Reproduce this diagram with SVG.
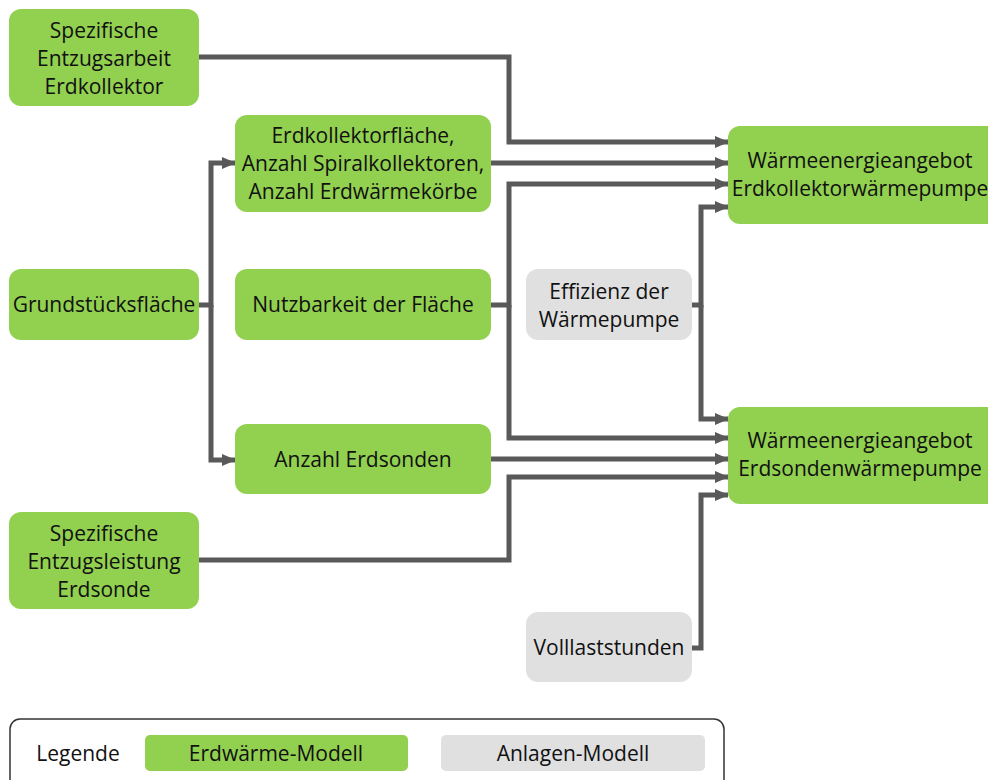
<svg xmlns="http://www.w3.org/2000/svg" width="988" height="780" viewBox="0 0 988 780">
<defs>
<marker id="ah" markerWidth="14" markerHeight="12" refX="13" refY="6" orient="auto" markerUnits="userSpaceOnUse">
<path d="M0,0 L14,6 L0,12 Z" fill="#595959"/>
</marker>
<style>
.g{fill:#92D050}
.y{fill:#E0E0E0}
text{font-family:"Open Sans","Noto Sans",sans-serif;font-size:21px;fill:#111;text-anchor:middle}
.c path{fill:none;stroke:#595959;stroke-width:5}
.a{marker-end:url(#ah)}
</style>
</defs>
<rect width="988" height="780" fill="#fff"/>
<g class="c" id="connectors">
<path class="a" d="M199,57 H509 V142 H728"/>
<path class="a" d="M491,163 H728"/>
<path class="a" d="M491,305 H509 V184 H728"/>
<path class="a" d="M509,305 V438 H728"/>
<path class="a" d="M692,305 H701 V207 H728"/>
<path class="a" d="M701,305 V419 H728"/>
<path class="a" d="M199,305 H211 V163 H235"/>
<path class="a" d="M211,305 V460 H235"/>
<path class="a" d="M491,459 H728"/>
<path class="a" d="M199,560 H509 V477 H728"/>
<path class="a" d="M692,648 H701 V495 H728"/>
</g>
<g id="n1"><rect class="g" x="9" y="9" width="190" height="97" rx="12"/><text x="104" y="38">Spezifische</text><text x="104" y="66">Entzugsarbeit</text><text x="104" y="94">Erdkollektor</text></g>
<g id="n2"><rect class="g" x="235" y="115" width="256" height="97" rx="12"/><text x="363" y="143">Erdkollektorfläche,</text><text x="363" y="171">Anzahl Spiralkollektoren,</text><text x="363" y="199">Anzahl Erdwärmekörbe</text></g>
<g id="n3"><rect class="g" x="9" y="269" width="190" height="71" rx="12"/><text x="104" y="312">Grundstücksfläche</text></g>
<g id="n4"><rect class="g" x="235" y="269" width="256" height="71" rx="12"/><text x="363" y="312">Nutzbarkeit der Fläche</text></g>
<g id="n5"><rect class="g" x="235" y="424" width="256" height="70" rx="12"/><text x="363" y="467">Anzahl Erdsonden</text></g>
<g id="n6"><rect class="g" x="9" y="512" width="190" height="97" rx="12"/><text x="104" y="541">Spezifische</text><text x="104" y="569">Entzugsleistung</text><text x="104" y="597">Erdsonde</text></g>
<g id="n7"><rect class="y" x="526" y="269" width="166" height="71" rx="12"/><text x="609" y="299">Effizienz der</text><text x="609" y="327">Wärmepumpe</text></g>
<g id="n8"><rect class="y" x="526" y="612" width="166" height="70" rx="12"/><text x="609" y="655">Volllaststunden</text></g>
<g id="n9"><rect class="g" x="728" y="126" width="272" height="98" rx="12"/><text x="860" y="168">Wärmeenergieangebot</text><text x="860" y="196">Erdkollektorwärmepumpe</text></g>
<g id="n10"><rect class="g" x="728" y="407" width="272" height="97" rx="12"/><text x="860" y="448">Wärmeenergieangebot</text><text x="860" y="476">Erdsondenwärmepumpe</text></g>
<g id="legend">
<rect x="10" y="719" width="714" height="80" rx="10" fill="none" stroke="#333" stroke-width="1.5"/>
<text x="78" y="761">Legende</text>
<rect class="g" x="145" y="735" width="263" height="36" rx="5"/><text x="276" y="761">Erdwärme-Modell</text>
<rect class="y" x="441" y="735" width="264" height="36" rx="5"/><text x="573" y="761">Anlagen-Modell</text>
</g>
</svg>
